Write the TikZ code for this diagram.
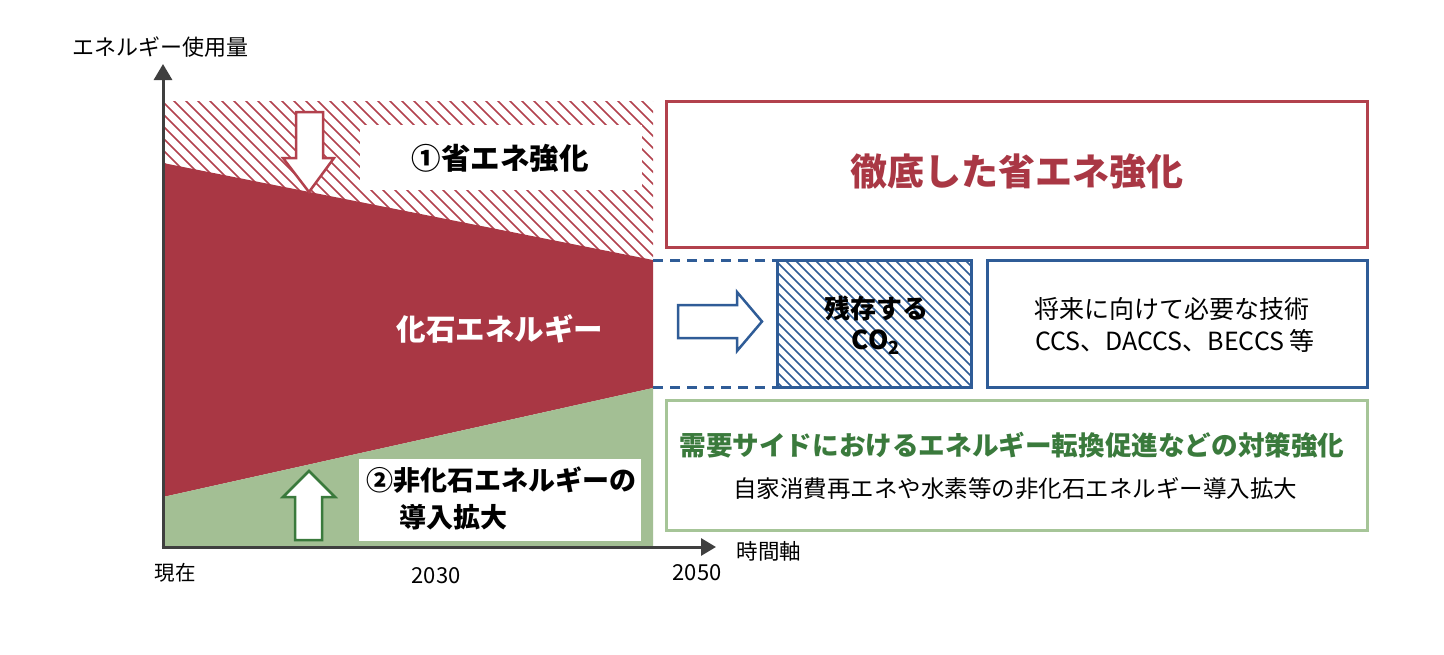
\documentclass[tikz,border=0pt]{standalone}
\usepackage{fontspec}
\setmainfont{Noto Sans CJK JP}
\usetikzlibrary{arrows.meta}
\definecolor{fossil}{HTML}{A93744}
\definecolor{redline}{HTML}{B2414D}
\definecolor{greenfill}{HTML}{A3BF94}
\definecolor{greendark}{HTML}{3A7A3C}
\definecolor{greenline}{HTML}{A6C598}
\definecolor{blueline}{HTML}{2F5C97}
\definecolor{axisgray}{HTML}{3F3F3F}
\begin{document}
\begin{tikzpicture}[x=1pt,y=-1pt,
  txt/.style={inner sep=0pt, anchor=center},
  boxline/.style={line width=3pt},
  hatchred/.style={redline, line width=1.6pt},
  hatchblue/.style={blueline, line width=1.5pt},
  outarrow/.style={line width=2.5pt, fill=white, line join=miter},
  axisline/.style={axisgray, line width=3pt},
  dashblue/.style={blueline, line width=3pt, dash pattern=on 10pt off 7pt}]
\useasboundingbox[fill=white] (0,0) rectangle (1444,654);

% --- hatched top region (saved energy)
\begin{scope}
  \clip (163,101) rectangle (653,262);
  \foreach \i in {-180,-168,...,660} \draw[hatchred] (\i,95) -- ++(180,180);
\end{scope}
% --- fossil energy region
\fill[fossil] (163,163) -- (653,260) -- (653,388) -- (163,497) -- cycle;
% --- non-fossil region
\fill[greenfill] (163,497) -- (653,388) -- (653,548) -- (163,548) -- cycle;

% label 1
\fill[white] (360,125) rectangle (642,190);
\node[txt, font=\bfseries\fontsize{29.5}{32}\selectfont] (l1) at (500,158) {①省エネ強化};
\draw[redline, outarrow] (296,112) -- (323,112) -- (323,158) -- (334,158) -- (309,192) -- (283,158) -- (296,158) -- cycle;

% fossil label
\node[txt, white, font=\bfseries\fontsize{29.5}{32}\selectfont] (fossiltxt) at (500,329) {化石エネルギー};

% label 2
\fill[white] (359,459) rectangle (641,541);
\node[txt, anchor=west, font=\bfseries\fontsize{27}{30}\selectfont] (l2a) at (366,480) {②非化石エネルギーの};
\node[txt, anchor=west, font=\bfseries\fontsize{27}{30}\selectfont] (l2b) at (399,517) {導入拡大};
\draw[greendark, outarrow] (295,540) -- (322,540) -- (322,497) -- (335,497) -- (309,471) -- (283,497) -- (295,497) -- cycle;

% axes
\draw[axisline, -{Triangle[length=16pt,width=18pt]}] (163,548.5) -- (163,64);
\draw[axisline, -{Triangle[length=15pt,width=17pt]}] (161.5,547) -- (716,547);
\node[txt, font=\fontsize{22}{24}\selectfont] (ylab) at (160,47) {エネルギー使用量};
\node[txt, font=\fontsize{21.5}{24}\selectfont] (xlab) at (769,551) {時間軸};
\node[txt, font=\fontsize{20.5}{24}\selectfont] (t0) at (175,573) {現在};
\node[txt, font=\fontsize{22}{24}\selectfont] (t1) at (436,576) {2030};
\node[txt, font=\fontsize{22}{24}\selectfont] (t2) at (697,573) {2050};

% red box
\draw[redline, boxline] (666,101) rectangle (1367,247);
\node[txt, fossil, font=\bfseries\fontsize{37}{40}\selectfont] (head) at (1017,172) {徹底した省エネ強化};

% dashed bounds and arrow
\coordinate (d1) at (653,260);
\coordinate (d2) at (777,260);
\coordinate (d3) at (653,387);
\coordinate (d4) at (777,387);
\draw[dashblue] (d1) -- (d2);
\draw[dashblue] (d3) -- (d4);
\draw[blueline, outarrow] (678,305) -- (737,305) -- (737,292) -- (762,321.5) -- (737,351) -- (737,338) -- (678,338) -- cycle;

% residual CO2 box
\begin{scope}
  \clip (777,260) rectangle (971,387);
  \foreach \i in {-140,-130,...,980} \draw[hatchblue] (\i,255) -- ++(140,140);
\end{scope}
\draw[blueline, boxline] (777,260) rectangle (971,387);
\node[txt, font=\bfseries\fontsize{26}{30}\selectfont] (co2a) at (876,308) {残存する};
\node[txt, font=\bfseries\fontsize{26}{30}\selectfont] (co2b) at (876,342) {CO\textsubscript{2}};

% technology box
\draw[blueline, boxline] (987,260) rectangle (1367,387);
\node[txt, font=\fontsize{25}{28}\selectfont] (tech1) at (1172,309) {将来に向けて必要な技術};
\node[txt, font=\fontsize{25}{28}\selectfont] (tech2) at (1175,341) {CCS、DACCS、BECCS 等};

% green box
\draw[greenline, boxline] (666,400) rectangle (1367,530);
\node[txt, greendark, font=\bfseries\fontsize{26.6}{30}\selectfont] (g1) at (1012,445) {需要サイドにおけるエネルギー転換促進などの対策強化};
\node[txt, font=\fontsize{23.5}{27}\selectfont] (g2) at (1015,489) {自家消費再エネや水素等の非化石エネルギー導入拡大};
\end{tikzpicture}
\end{document}
